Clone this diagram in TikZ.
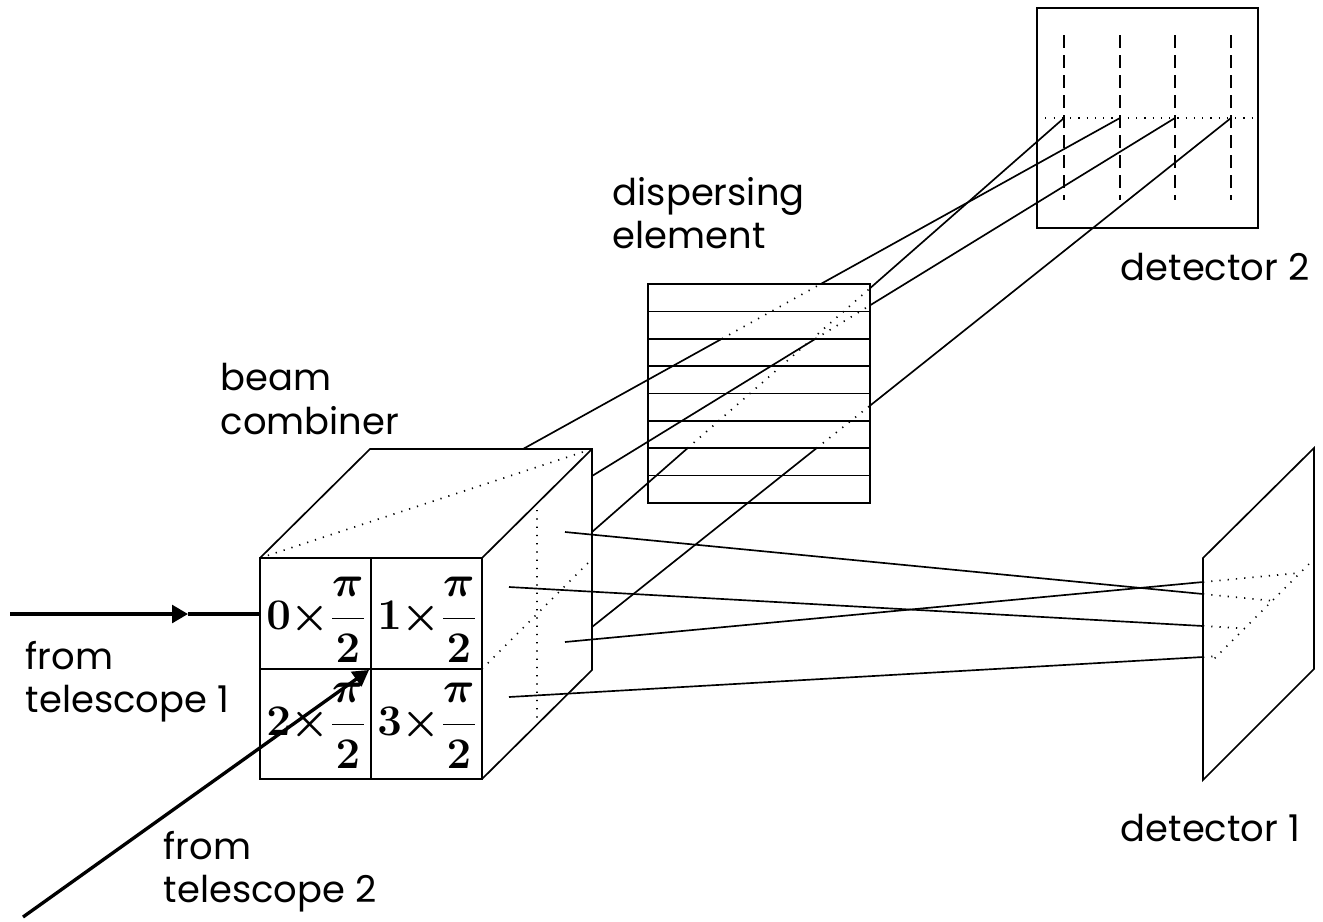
\documentclass[tikz,border=0pt]{standalone}
\usepackage{fontspec}
\setmainfont{Poppins}
\usetikzlibrary{arrows.meta}

\begin{document}
\begin{tikzpicture}
[
x=0.02cm, y=-0.02cm,
line width=0.95pt,
hidden/.style={dash pattern=on 0.7pt off 4pt},
column/.style={dash pattern=on 7.5pt off 3.9pt},
beam/.style={line width=1.9pt},
tip/.style={-{Triangle[length=9pt,width=10pt]}},
caption/.style={align=left, inner sep=0pt, font=\fontsize{21}{24.5}\selectfont},
phase/.style={inner sep=0pt, font=\fontsize{27}{32}\selectfont\boldmath}
]
\useasboundingbox (0,0) rectangle (1323,921);

% beam combiner
\coordinate (c1) at (260,558); \coordinate (c2) at (482,558);
\coordinate (c3) at (482,779); \coordinate (c4) at (260,779);
\coordinate (c5) at (370,449); \coordinate (c6) at (592,449);
\coordinate (c7) at (592,670);
\draw (c1) -- (c2) -- (c3) -- (c4) -- cycle;
\draw (c1) -- (c5) -- (c6) -- (c7) -- (c3);
\draw (c2) -- (c6);
\draw (371,558) -- (371,779) (260,669) -- (482,669);
\draw[hidden] (c1) -- (c6) (482,669) -- (592,559) (537,510) -- (537,720);
\foreach \n/\x/\y in {0/316/620, 1/427/620, 2/316/726, 3/427/726}
  \node[phase] (p\n) at (\x,\y) {$\displaystyle\n{\times}\frac{\pi}{2}$};

% incoming beams
\coordinate (tel1) at (10,614); \coordinate (tel1m) at (188,614);
\coordinate (tel1in) at (260,614);
\coordinate (tel2) at (23,917); \coordinate (tel2in) at (369,670);
\draw[beam,tip] (tel1) -- (tel1m);
\draw[beam] (tel1m) -- (tel1in);
\draw[beam,tip] (tel2) -- (tel2in);

% dispersing element
\draw (648,284) rectangle (870,503);
\foreach \k in {0,...,8} {
  \coordinate (g\k w) at (648,{284+27.375*\k});
  \coordinate (g\k e) at (870,{284+27.375*\k});
}
\foreach \k in {1,...,7} \draw (g\k w) -- (g\k e);

% detector 2
\draw (1037,8) rectangle (1258,228);
\draw[hidden] (1037,118) -- (1255,118);
\foreach \i/\x in {1/1064, 2/1120, 3/1175, 4/1231} {
  \coordinate (s\i) at (\x,118);
  \draw[column] (\x,35) -- (\x,200);
}

% beams through the dispersing element
\coordinate (b1) at (592,532); \coordinate (b2) at (523,449);
\coordinate (b3) at (592,476); \coordinate (b4) at (592,627);
\foreach \i/\k/\p/\q in {1/6/g0e/g8e, 2/2/g0w/g0e, 3/2/g0e/g8e, 4/6/g0e/g8e} {
  \draw (b\i) -- (intersection cs: first line={(b\i)--(s\i)}, second line={(g\k w)--(g\k e)}) coordinate (m\i);
  \draw[hidden] (m\i) -- (intersection cs: first line={(b\i)--(s\i)}, second line={(\p)--(\q)}) coordinate (o\i);
  \draw (o\i) -- (s\i);
}

% detector 1
\coordinate (d1t) at (1309,564); \coordinate (d1b) at (1210,663);
\draw (1203,558) -- (1314,448) -- (1314,669) -- (1203,780) -- cycle;
\draw[hidden] (d1t) -- (d1b);
\foreach \i/\sx/\sy/\ay in {1/565/532/594, 2/509/587/626, 3/565/642/582, 4/509/697/657} {
  \coordinate (r\i) at (\sx,\sy);
  \coordinate (a\i) at (1203,\ay);
  \draw (r\i) -- (a\i);
  \draw[hidden] (a\i) -- (intersection cs: first line={(r\i)--(a\i)}, second line={(d1t)--(d1b)});
}

% labels
\node[caption, anchor=west] (combiner) at (220,399) {beam\\combiner};
\node[caption, anchor=west] (disperser) at (612,213) {dispersing\\element};
\node[caption, anchor=base west] (det2) at (1120,280) {detector 2};
\node[caption, anchor=base west] (det1) at (1120,841) {detector 1};
\node[caption, anchor=west] (from1) at (25,682) {from\\telescope 1};
\node[caption, anchor=west] (from2) at (163,872) {from\\telescope 2};
\end{tikzpicture}
\end{document}
